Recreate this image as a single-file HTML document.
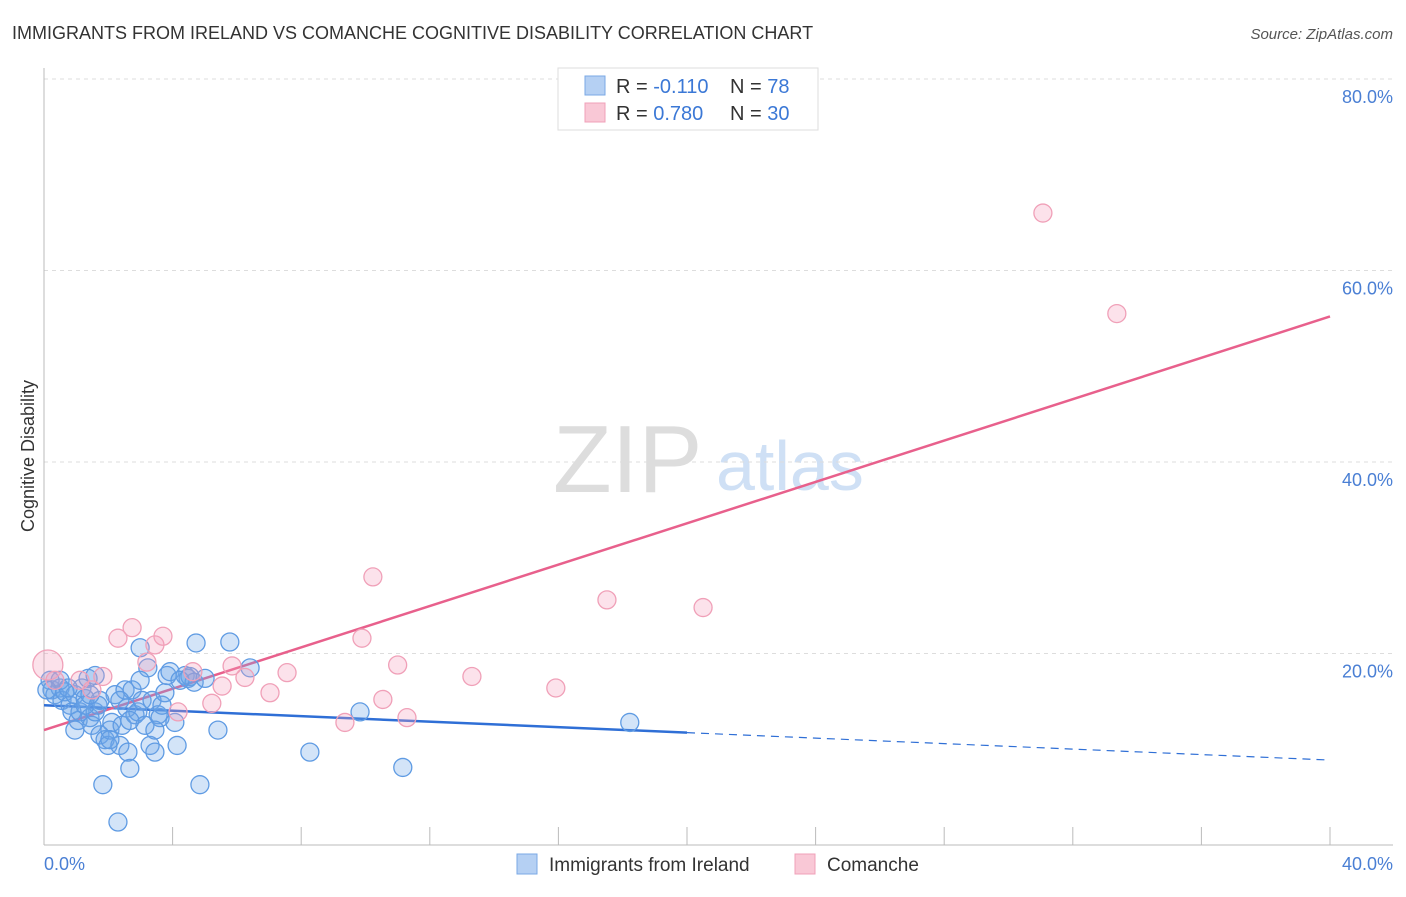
<!DOCTYPE html>
<html><head><meta charset="utf-8"><style>
body{margin:0;background:#fff;font-family:"Liberation Sans",sans-serif;}
svg text{font-family:"Liberation Sans",sans-serif;}
</style></head><body>
<svg width="1406" height="892" viewBox="0 0 1406 892">
<text x="12" y="39" font-size="18" fill="#333">IMMIGRANTS FROM IRELAND VS COMANCHE COGNITIVE DISABILITY CORRELATION CHART</text>
<text x="1393" y="39" font-size="15" fill="#555" font-style="italic" text-anchor="end">Source: ZipAtlas.com</text>
<g>
<text x="553" y="492" font-size="96" fill="#ddd" font-family="Liberation Serif, serif">ZIP</text>
<text x="716" y="490" font-size="70" fill="#cfe0f5">atlas</text>
</g>
<g id="grid"></g>
<g id="axes"></g>
<g id="trends"></g>
<g id="points"></g>
<text transform="translate(34,456) rotate(-90)" font-size="18" fill="#333" text-anchor="middle">Cognitive Disability</text>
<text x="44" y="870" font-size="18" fill="#4a7fd4">0.0%</text>
<text x="1393" y="870" font-size="18" fill="#4a7fd4" text-anchor="end">40.0%</text>
<g>
<rect x="558" y="68" width="260" height="62" fill="#fff" stroke="#ddd"/>
<rect x="585" y="76" width="20" height="19" fill="#b5d0f3" stroke="#7aa8e6"/>
<rect x="585" y="103" width="20" height="19" fill="#f9c8d6" stroke="#f0a0b8"/>
<text x="616" y="93" font-size="20" fill="#333">R = <tspan fill="#3b78d6">-0.110</tspan><tspan x="730">N = </tspan><tspan fill="#3b78d6">78</tspan></text>
<text x="616" y="120" font-size="20" fill="#333">R = <tspan fill="#3b78d6"> 0.780</tspan><tspan x="730">N = </tspan><tspan fill="#3b78d6">30</tspan></text>
</g>
<g>
<rect x="517" y="854" width="20" height="20" fill="#b5d0f3" stroke="#7aa8e6"/>
<text x="549" y="871" font-size="19" fill="#333">Immigrants from Ireland</text>
<rect x="795" y="854" width="20" height="20" fill="#f9c8d6" stroke="#f0a0b8"/>
<text x="827" y="871" font-size="19" fill="#333">Comanche</text>
</g>
</svg>
<script>
const yTicks=[20,40,60,80];
const yTickLabels=["20.0%","40.0%","60.0%","80.0%"];
const xTicks=[0,4,8,12,16,20,24,28,32,36,40];
const blueX=[0.19,0.25,0.34,0.5,0.56,0.65,0.81,0.87,0.96,1.06,1.12,1.18,1.28,1.37,1.43,1.49,1.59,1.68,1.74,1.83,1.9,1.99,2.05,2.11,2.21,2.3,2.36,2.43,2.52,2.58,2.61,2.67,2.74,2.83,2.92,2.99,3.05,3.14,3.23,3.3,3.36,3.45,3.55,3.61,3.67,3.76,3.83,3.92,4.07,4.14,4.39,4.48,4.54,4.67,4.73,4.85,5.01,5.41,5.78,6.41,8.27,9.83,11.16,18.22,1.59,0.5,0.75,1.28,0.96,2.05,2.36,2.99,1.74,4.23,0.09,1.43,2.67,3.45];
const blueY=[17.2,16.2,15.7,16.4,15.1,16.0,14.6,13.9,15.7,13.0,13.9,16.4,15.3,17.4,13.3,12.5,13.9,14.6,11.5,6.3,11.0,10.4,12.0,12.8,15.7,2.4,10.4,12.5,16.2,14.3,9.7,8.0,16.2,13.6,13.9,20.6,15.1,12.5,18.5,10.4,15.1,9.7,13.6,13.3,14.6,15.9,17.7,18.1,12.8,10.4,17.7,17.4,17.6,17.0,21.1,6.3,17.4,12.0,21.2,18.5,9.7,13.9,8.1,12.8,17.7,17.2,16.4,14.6,12.0,11.0,15.1,17.2,15.1,17.2,16.2,15.7,13.0,12.0];
const pinkX=[0.12,0.34,1.12,1.49,1.83,2.3,2.74,3.45,3.7,3.2,4.17,4.63,5.22,5.54,5.85,6.25,7.03,7.56,9.36,9.89,10.23,10.54,11.0,11.29,13.31,15.92,17.51,20.5,31.07,33.37];
const pinkY=[18.8,17.2,17.2,16.2,17.6,21.6,22.7,20.9,21.8,19.1,13.9,18.1,14.8,16.6,18.7,17.5,15.9,18.0,12.8,21.6,28.0,15.2,18.8,13.3,17.6,16.4,25.6,24.8,66.0,55.5];
const blueTrend=[14.6,8.87];
const pinkTrend=[12.0,55.2];
const NS="http://www.w3.org/2000/svg";
const X=v=>44+v/40*1286;
const Y=v=>845-v/20*191.5;
function mk(tag,attrs,parent){const e=document.createElementNS(NS,tag);for(const k in attrs)e.setAttribute(k,attrs[k]);document.getElementById(parent).appendChild(e);return e;}
yTicks.forEach((t,i)=>{
 const l=mk('line',{x1:44,x2:1393,y1:Y(t),y2:Y(t),stroke:'#ddd','stroke-dasharray':'4,4'},'grid');
 
 
 const tx=mk('text',{x:1393,y:Y(t)+24,'font-size':18,fill:'#4a7fd4','text-anchor':'end'},'grid');
 tx.textContent=yTickLabels[i];
 
 
});
const ya=mk('line',{x1:44,x2:44,y1:68,y2:845,stroke:'#bbb'},'axes');


const xa=mk('line',{x1:44,x2:1393,y1:845,y2:845,stroke:'#bbb'},'axes');


xTicks.forEach(t=>{
 const l=mk('line',{x1:X(t),x2:X(t),y1:827,y2:845,stroke:'#bbb'},'axes');
 
 
});
blueX.forEach((x,i)=>{
 const c=mk('circle',{cx:X(x),cy:Y(blueY[i]),r:9,fill:'rgba(110,165,232,0.3)',stroke:'#5f9be3','stroke-width':1.3},'points');
 
 
});
pinkX.forEach((x,i)=>{
 const c=mk('circle',{cx:X(x),cy:Y(pinkY[i]),r:i===0?15:9,fill:'rgba(244,160,188,0.3)',stroke:'#f0a0b8','stroke-width':1.3},'points');
 
 
});
const bm=blueTrend[0]+(blueTrend[1]-blueTrend[0])*0.5;
const b1=mk('line',{x1:X(0),y1:Y(blueTrend[0]),x2:X(20),y2:Y(bm),stroke:'#2f6fd6','stroke-width':2.5},'trends');


const b2=mk('line',{x1:X(20),y1:Y(bm),x2:X(40),y2:Y(blueTrend[1]),stroke:'#2f6fd6','stroke-width':1.2,'stroke-dasharray':'8,6'},'trends');


const p1=mk('line',{x1:X(0),y1:Y(pinkTrend[0]),x2:X(40),y2:Y(pinkTrend[1]),stroke:'#e8608c','stroke-width':2.5},'trends');


</script>
</body></html>
